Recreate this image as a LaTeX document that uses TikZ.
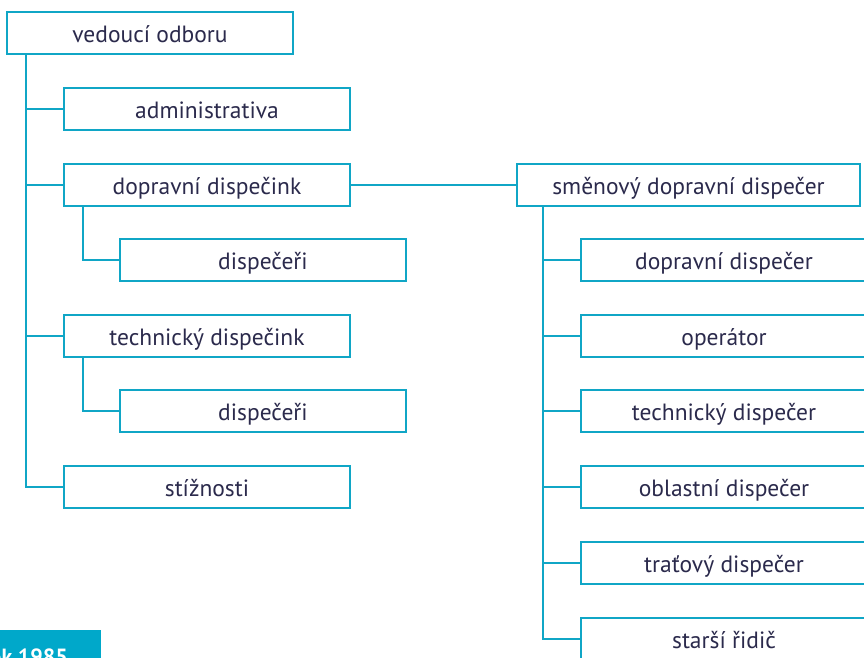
\documentclass[tikz,border=0pt]{standalone}
\usepackage{fontspec}
\setmainfont{PT Sans}
\definecolor{lineblue}{HTML}{10A6C6}
\definecolor{fillblue}{HTML}{00A8CA}
\definecolor{txt}{HTML}{2B2A4C}
\begin{document}
\begin{tikzpicture}[x=1pt,y=-1pt,
  box/.style={draw=lineblue,line width=2.2pt,fill=white,minimum width=286pt,minimum height=42pt,
     inner sep=0pt,text height=19pt,text depth=0pt,font=\fontsize{23.5}{28}\selectfont,text=txt},
  wide/.style={box,minimum width=343pt},
  conn/.style={draw=lineblue,line width=2.2pt}]
\useasboundingbox (0,0) rectangle (864,657);
\begin{scope}
\clip (0,0) rectangle (864,657);
% left column
\node[box] (vo) at (150,33) {vedoucí odboru};
\node[box] (adm) at (207,109) {administrativa};
\node[box] (dd) at (207,185) {dopravní dispečink};
\node[box] (d1) at (263,260) {dispečeři};
\node[box] (td) at (207,336) {technický dispečink};
\node[box] (d2) at (263,411) {dispečeři};
\node[box] (st) at (207,487) {stížnosti};
% right column
\node[wide] (sdd) at (688.5,185) {směnový dopravní dispečer};
\node[box] (r1) at (724,260) {dopravní dispečer};
\node[box] (r2) at (724,336) {operátor};
\node[box] (r3) at (724,411) {technický dispečer};
\node[box] (r4) at (724,487) {oblastní dispečer};
\node[box] (r5) at (724,563) {traťový dispečer};
\node[box] (r6) at (724,639) {starší řidič};
% connectors
\draw[conn] ([xshift=-124pt]vo.south) |- (adm.west);
\draw[conn] ([xshift=-124pt]vo.south) |- (dd.west);
\draw[conn] ([xshift=-124pt]vo.south) |- (td.west);
\draw[conn] ([xshift=-124pt]vo.south) |- (st.west);
\draw[conn] ([xshift=-124pt]dd.south) |- (d1.west);
\draw[conn] ([xshift=-124pt]td.south) |- (d2.west);
\draw[conn] (dd.east) -- (sdd.west);
\foreach \r in {r1,r2,r3,r4,r5,r6}
  \draw[conn] ([xshift=-145.5pt]sdd.south) |- (\r.west);
% year tab
\fill[fillblue] (0,630) rectangle (101,660);
\node[anchor=base east,text=white,font=\bfseries\fontsize{22}{26}\selectfont,inner sep=0pt] (yr) at (68,664) {rok 1985};
\end{scope}
\end{tikzpicture}
\end{document}
